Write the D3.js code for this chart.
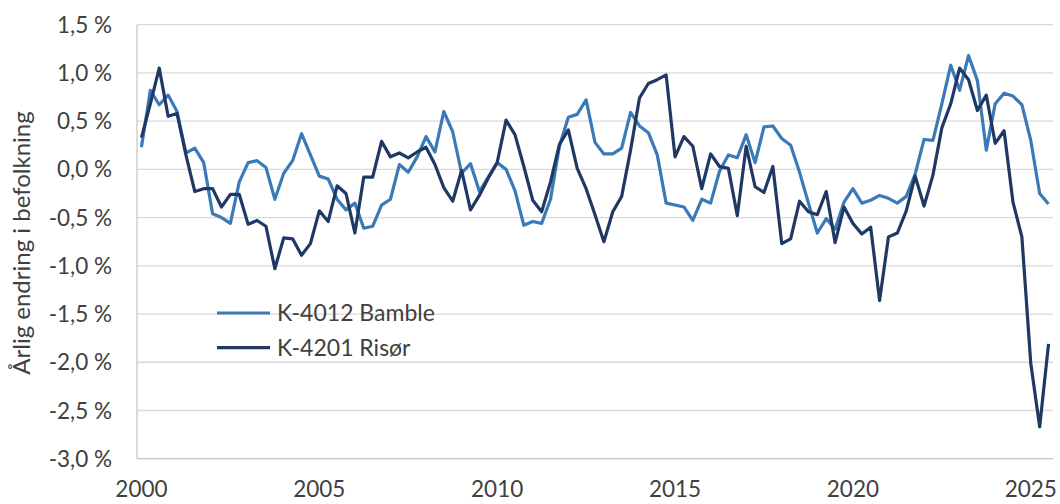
<!DOCTYPE html>
<html>
<head>
<meta charset="utf-8">
<script src="https://cdn.jsdelivr.net/npm/d3@7"></script>
<style>
  html, body { margin: 0; padding: 0; background: #fff; }
  svg { display: block; font-family: Lato, "Open Sans", sans-serif; }
</style>
</head>
<body>
<svg id="chart" width="1060" height="504"></svg>
<script>
// quarterly data, 2000K1 - 2025K3
const years = d3.range(2000, 2026);
const quarters = ["K1", "K2", "K3", "K4"];
const categories = years.flatMap(y => quarters.map(q => `${y}${q}`)).slice(0, 103);

const bamble = [
  0.23, 0.82, 0.67, 0.77, 0.60, 0.17, 0.22, 0.07, -0.46, -0.50,
  -0.56, -0.13, 0.07, 0.09, 0.02, -0.31, -0.04, 0.09, 0.37, 0.15,
  -0.07, -0.10, -0.31, -0.42, -0.35, -0.61, -0.59, -0.37, -0.31, 0.05,
  -0.03, 0.13, 0.34, 0.18, 0.60, 0.39, -0.04, 0.06, -0.23, -0.08,
  0.07, 0.00, -0.22, -0.58, -0.54, -0.56, -0.31, 0.24, 0.54, 0.57,
  0.72, 0.28, 0.16, 0.16, 0.22, 0.59, 0.45, 0.38, 0.15, -0.35,
  -0.37, -0.39, -0.53, -0.31, -0.35, -0.02, 0.15, 0.12, 0.36, 0.07,
  0.44, 0.45, 0.32, 0.25, -0.03, -0.35, -0.66, -0.51, -0.62, -0.34,
  -0.20, -0.35, -0.32, -0.27, -0.30, -0.35, -0.28, -0.05, 0.31, 0.30,
  0.68, 1.08, 0.82, 1.18, 0.92, 0.20, 0.68, 0.79, 0.76, 0.67,
  0.30, -0.25, -0.36
];

const risor = [
  0.33, 0.68, 1.05, 0.55, 0.58, 0.15, -0.23, -0.20, -0.20, -0.39,
  -0.26, -0.26, -0.57, -0.53, -0.59, -1.03, -0.71, -0.72, -0.89, -0.77,
  -0.43, -0.54, -0.17, -0.25, -0.66, -0.08, -0.08, 0.29, 0.13, 0.17,
  0.12, 0.18, 0.23, 0.05, -0.19, -0.33, -0.01, -0.42, -0.27, -0.09,
  0.07, 0.51, 0.36, 0.03, -0.32, -0.44, -0.13, 0.26, 0.41, 0.01,
  -0.20, -0.47, -0.75, -0.44, -0.28, 0.20, 0.74, 0.89, 0.93, 0.98,
  0.13, 0.34, 0.24, -0.20, 0.16, 0.03, 0.01, -0.48, 0.24, -0.18,
  -0.24, 0.03, -0.77, -0.72, -0.33, -0.44, -0.47, -0.23, -0.76, -0.39,
  -0.56, -0.67, -0.60, -1.36, -0.70, -0.66, -0.43, -0.07, -0.38, -0.06,
  0.43, 0.68, 1.05, 0.93, 0.61, 0.77, 0.27, 0.40, -0.34, -0.70,
  -2.01, -2.67, -1.81
];

const seriesNames = ["K-4012 Bamble", "K-4201 Risør"];
const seriesColors = ["#3a7ab8", "#1f3864"];
const yTicks = [1.5, 1.0, 0.5, 0.0, -0.5, -1.0, -1.5, -2.0, -2.5, -3.0];
const xTickLabels = ["2000", "2005", "2010", "2015", "2020", "2025"];

// plot area
const plot = { left: 137, right: 1053, top: 24.7, bottom: 458.7 };

const svg = d3.select('#chart');

const x = d3.scaleBand()
    .domain(categories)
    .range([plot.left, plot.right]);
const xc = c => x(c) + x.bandwidth() / 2;

const y = d3.scaleLinear()
    .domain([-3, 1.5])
    .range([plot.bottom, plot.top]);

const fmt = v => d3.format('.1f')(v).replace('.', ',').replace('−', '-') + ' %';

// gridlines
svg.append('g')
    .selectAll('line').data(yTicks)
    .enter().append('line')
        .attr('x1', plot.left)
        .attr('x2', plot.right)
        .attr('y1', d => y(d))
        .attr('y2', d => y(d))
        .attr('stroke', '#d9d9d9')
        .attr('stroke-width', 1.3);

// axis lines
svg.append('line')
    .attr('x1', plot.left).attr('x2', plot.left)
    .attr('y1', plot.top).attr('y2', plot.bottom)
    .attr('stroke', '#c8c8c8').attr('stroke-width', 1.3);
svg.append('line')
    .attr('x1', plot.left).attr('x2', plot.right)
    .attr('y1', plot.bottom).attr('y2', plot.bottom)
    .attr('stroke', '#c8c8c8').attr('stroke-width', 1.3);

// y tick labels
svg.append('g')
    .selectAll('text').data(yTicks)
    .enter().append('text')
        .attr('x', 112)
        .attr('y', d => y(d))
        .attr('dy', '0.36em')
        .attr('text-anchor', 'end')
        .attr('font-size', 22.5)
        .attr('fill', '#404040')
        .text(fmt);

// x tick labels (every 20th quarter)
svg.append('g')
    .selectAll('text').data(xTickLabels)
    .enter().append('text')
        .attr('x', d => xc(`${d}K1`))
        .attr('y', 497)
        .attr('text-anchor', 'middle')
        .attr('font-size', 22.5)
        .attr('fill', '#404040')
        .text(d => d);

// y axis title
svg.append('text')
    .attr('transform', `translate(30, 243) rotate(-90)`)
    .attr('text-anchor', 'middle')
    .attr('font-size', 24)
    .attr('fill', '#404040')
    .text('Årlig endring i befolkning');

// lines
const line = d3.line()
    .x((d, i) => xc(categories[i]))
    .y(d => y(d));

[bamble, risor].forEach((data, k) => {
    svg.append('path')
        .datum(data)
        .attr('fill', 'none')
        .attr('stroke', seriesColors[k])
        .attr('stroke-width', 3.2)
        .attr('stroke-linejoin', 'round')
        .attr('d', line);
});

// legend
const legend = svg.append('g').attr('transform', 'translate(217, 313)');
seriesNames.forEach((name, k) => {
    const g = legend.append('g').attr('transform', `translate(0, ${k * 34.6})`);
    g.append('line')
        .attr('x1', 0).attr('x2', 53)
        .attr('stroke', seriesColors[k])
        .attr('stroke-width', 3.2);
    g.append('text')
        .attr('x', 60)
        .attr('dy', '0.36em')
        .attr('font-size', 23)
        .attr('fill', '#404040')
        .text(name);
});
</script>
</body>
</html>
